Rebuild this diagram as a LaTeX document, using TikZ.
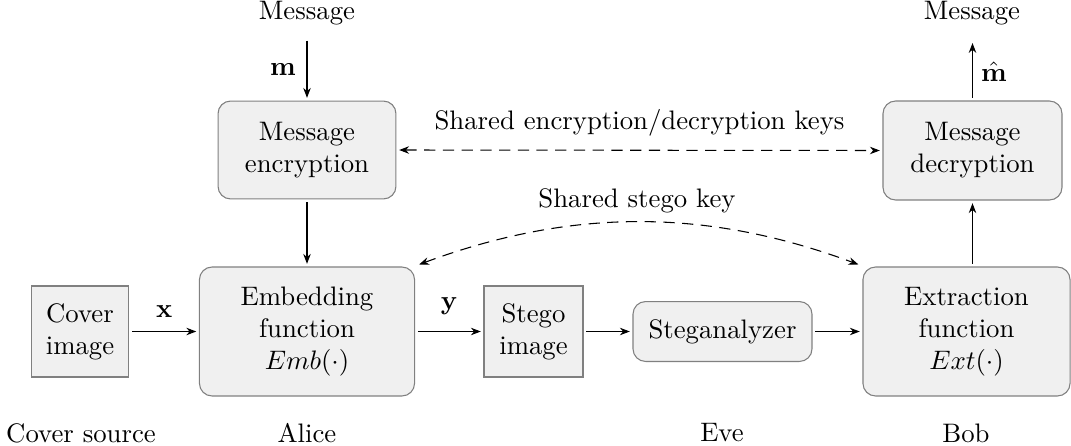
\documentclass[tikz,border=0pt]{standalone}
\usetikzlibrary{arrows.meta,calc}
\definecolor{boxfill}{HTML}{F0F0F0}
\definecolor{boxdraw}{HTML}{808080}
\begin{document}
\begin{tikzpicture}[x=0.3738pt,y=-0.3738pt,
  sqbox/.style={draw=boxdraw,fill=boxfill,align=center,inner sep=0pt},
  rbox/.style={draw=boxdraw,fill=boxfill,align=center,inner sep=0pt,rounded corners=4.7pt},
  lbl/.style={inner sep=0pt,align=center},
  arr/.style={-{Stealth[length=3.7pt,width=2.8pt]},shorten <=1pt,shorten >=1pt},
  darr/.style={{Stealth[length=3.7pt,width=2.8pt]}-{Stealth[length=3.7pt,width=2.8pt]},dash pattern=on 4.2pt off 2.8pt,shorten <=1pt,shorten >=1pt}]
\useasboundingbox (0,0) rectangle (1071,446);
% boxes
\node[sqbox,minimum width=36.6pt,minimum height=34pt] (cover) at (80,331.5) {Cover\\image};
\node[rbox,minimum width=80.4pt,minimum height=48.2pt] (emb) at (307,331.5) {Embedding\\function\\$Emb(\cdot)$};
\node[sqbox,minimum width=37pt,minimum height=34pt] (stego) at (533.5,331.5) {Stego\\image};
\node[rbox,minimum width=66.9pt,minimum height=22.4pt] (stan) at (722.5,331.5) {Steganalyzer};
\node[rbox,minimum width=77.4pt,minimum height=48.2pt] (ext) at (966.5,331.5) {Extraction\\function\\$Ext(\cdot)$};
\node[rbox,minimum width=66.5pt,minimum height=36.6pt] (enc) at (307,150) {Message\\encryption};
\node[rbox,minimum width=66.9pt,minimum height=37pt] (dec) at (972.5,150.5) {Message\\decryption};
% texts
\node[lbl] (msgin) at (307,13) {Message};
\node[lbl] (msgout) at (972,13) {Message};
\node[lbl] (csrc) at (81,433) {Cover source};
\node[lbl] (alice) at (307,433) {Alice};
\node[lbl] (eve) at (722,433) {Eve};
\node[lbl] (bob) at (966,433) {Bob};
% connectors
\coordinate (mtop) at (307,38);
\draw[arr] (mtop) -- (enc.north) node[midway,left=4pt,lbl] (mlab) {$\mathbf{m}$};
\draw[arr] (enc.south) -- (emb.north);
\draw[arr] (ext.north -| dec.south) -- (dec.south);
\coordinate (mhtop) at (972.5,43);
\draw[-{Stealth[length=3.7pt,width=2.8pt]},shorten <=1pt] (dec.north) -- (mhtop) node[pos=0.5,right=3pt,lbl] (mhlab) {$\hat{\mathbf{m}}$};
\draw[arr] (cover.east) -- (emb.west) node[midway,above=5pt,lbl] (xlab) {$\mathbf{x}$};
\draw[arr] (emb.east) -- (stego.west) node[midway,above=6pt,lbl] (ylab) {$\mathbf{y}$};
\draw[arr] (stego.east) -- (stan.west);
\draw[arr] (stan.east) -- (ext.west);
\draw[darr] (enc.east) -- (dec.west) node[midway,above=5pt,lbl] (klab) {Shared encryption/decryption keys};
\coordinate (s1) at ($(emb.north east)+(4,-2)$);
\coordinate (s2) at ($(ext.north west)+(-4,-2)$);
\draw[darr,shorten <=0pt,shorten >=0pt] (s1) .. controls (572,208) and (706,208) .. (s2);
\node[lbl] (sklab) at (637,201) {Shared stego key};
\end{tikzpicture}
\end{document}
